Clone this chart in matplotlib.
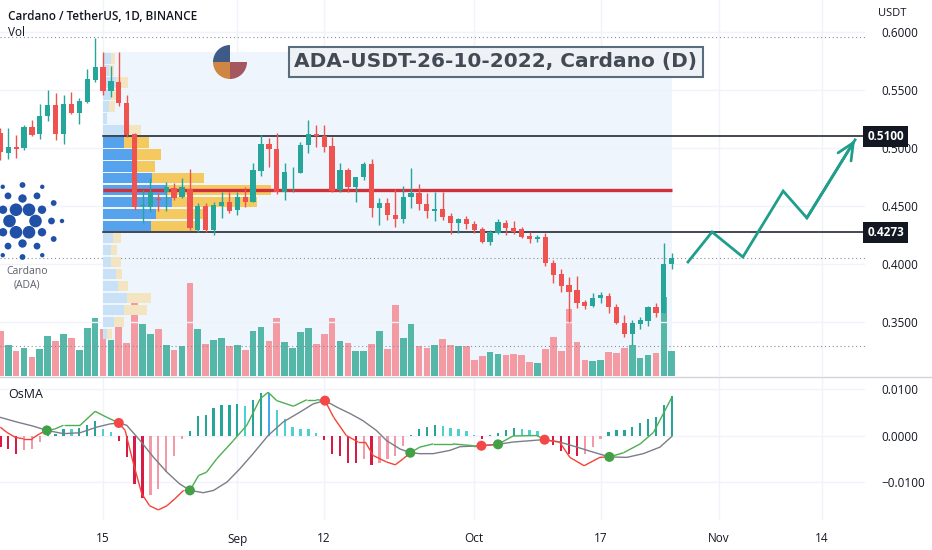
import numpy as np
import pandas as pd
import matplotlib
matplotlib.use("Agg")
import matplotlib.pyplot as plt
import matplotlib.dates as mdates
from matplotlib.collections import LineCollection
from matplotlib.patches import Circle, Wedge
from matplotlib.transforms import blended_transform_factory

plt.rcParams['font.family'] = ['Open Sans', 'DejaVu Sans']

# ---- daily ADA/USDT candles, 2 Aug .. 26 Oct 2022 ----
dates = pd.date_range('2022-08-02', '2022-10-26', freq='D')
opens = [0.5127, 0.4960, 0.5011, 0.4998, 0.5179, 0.5121, 0.5276, 0.5371, 0.5121, 0.5379, 0.5299, 0.5399, 0.5586,
         0.5696, 0.5494, 0.5572, 0.5391, 0.5121, 0.4500, 0.4494, 0.4561, 0.4623, 0.4653, 0.4575, 0.4644, 0.4293,
         0.4500, 0.4293, 0.4500, 0.4537, 0.4466, 0.4575, 0.4537, 0.4804, 0.5034, 0.4989, 0.4623, 0.4790, 0.4787,
         0.5026, 0.5121, 0.5104, 0.5017, 0.4638, 0.4810, 0.4661, 0.4747, 0.4862, 0.4480, 0.4523, 0.4422, 0.4385,
         0.4580, 0.4615, 0.4517, 0.4460, 0.4472, 0.4414, 0.4356, 0.4385, 0.4345, 0.4299, 0.4192, 0.4270, 0.4356,
         0.4313, 0.4299, 0.4241, 0.4218, 0.4230, 0.4011, 0.3911, 0.3819, 0.3776, 0.3675, 0.3638, 0.3704, 0.3724,
         0.3627, 0.3494, 0.3397, 0.3483, 0.3511, 0.3627, 0.3575, 0.4000]
highs = [0.5173, 0.5173, 0.5112, 0.5198, 0.5242, 0.5379, 0.5500, 0.5477, 0.5457, 0.5485, 0.5429, 0.5678, 0.5946,
         0.5830, 0.5707, 0.5830, 0.5457, 0.5127, 0.4638, 0.4739, 0.4610, 0.4709, 0.4696, 0.4739, 0.4817, 0.4523,
         0.4523, 0.4537, 0.4623, 0.4623, 0.4623, 0.4666, 0.4868, 0.5112, 0.5084, 0.5127, 0.4868, 0.4839, 0.5054,
         0.5242, 0.5198, 0.5198, 0.5097, 0.4873, 0.4825, 0.4750, 0.4882, 0.4903, 0.4566, 0.4566, 0.4644, 0.4672,
         0.4825, 0.4690, 0.4610, 0.4623, 0.4623, 0.4437, 0.4394, 0.4414, 0.4373, 0.4322, 0.4293, 0.4385, 0.4379,
         0.4373, 0.4322, 0.4279, 0.4250, 0.4270, 0.4034, 0.3954, 0.3891, 0.3897, 0.3690, 0.3747, 0.3761, 0.3747,
         0.3655, 0.3560, 0.3517, 0.3546, 0.3638, 0.3661, 0.4178, 0.4092]
lows = [0.4897, 0.4905, 0.4917, 0.4983, 0.5104, 0.5075, 0.5235, 0.5069, 0.5035, 0.5293, 0.5207, 0.5391, 0.5572,
        0.5457, 0.5442, 0.5362, 0.5097, 0.4466, 0.4356, 0.4451, 0.4460, 0.4460, 0.4552, 0.4566, 0.4293, 0.4279,
        0.4279, 0.4250, 0.4394, 0.4440, 0.4422, 0.4489, 0.4535, 0.4759, 0.4839, 0.4604, 0.4552, 0.4623, 0.4782,
        0.4954, 0.5006, 0.4968, 0.4623, 0.4623, 0.4623, 0.4537, 0.4724, 0.4408, 0.4336, 0.4379, 0.4322, 0.4351,
        0.4480, 0.4466, 0.4394, 0.4373, 0.4379, 0.4259, 0.4270, 0.4299, 0.4265, 0.4184, 0.4164, 0.4259, 0.4250,
        0.4259, 0.4222, 0.4184, 0.4192, 0.3983, 0.3839, 0.3761, 0.3503, 0.3618, 0.3610, 0.3629, 0.3667, 0.3575,
        0.3483, 0.3373, 0.3302, 0.3437, 0.3466, 0.3540, 0.3575, 0.3954]
closes = [0.4968, 0.5011, 0.4994, 0.5179, 0.5112, 0.5276, 0.5371, 0.5121, 0.5379, 0.5304, 0.5408, 0.5592, 0.5696,
          0.5491, 0.5580, 0.5385, 0.5112, 0.4489, 0.4509, 0.4623, 0.4552, 0.4666, 0.4566, 0.4666, 0.4308, 0.4500,
          0.4293, 0.4509, 0.4537, 0.4460, 0.4575, 0.4537, 0.4810, 0.5034, 0.4989, 0.4623, 0.4796, 0.4796, 0.5026,
          0.5121, 0.5104, 0.5011, 0.4632, 0.4810, 0.4661, 0.4747, 0.4862, 0.4480, 0.4523, 0.4422, 0.4385, 0.4580,
          0.4615, 0.4517, 0.4460, 0.4472, 0.4408, 0.4356, 0.4385, 0.4345, 0.4293, 0.4192, 0.4279, 0.4365, 0.4308,
          0.4279, 0.4230, 0.4213, 0.4230, 0.4011, 0.3905, 0.3810, 0.3761, 0.3666, 0.3638, 0.3704, 0.3733, 0.3627,
          0.3494, 0.3397, 0.3489, 0.3517, 0.3627, 0.3575, 0.4000, 0.4049]
volume = [45, 31, 25, 27.7, 19, 26.7, 40, 35, 42.3, 37.7, 26, 48.3, 57.7,
          46.7, 36, 57.7, 32.7, 81, 52.3, 42.3, 46.7, 31, 26, 30, 93.3, 46.7, 31.7, 35.7, 37.7, 30, 31, 25.7,
          45, 49, 35, 57.7, 34, 27.7, 44, 48.3, 31.7, 42.3, 57.7, 35, 33.3, 25, 25, 32.3, 45, 27.3, 71, 38.3,
          52.3, 30, 27.7, 31, 37.3, 31, 30, 30, 15.7, 20, 24.3, 21.7, 20.7, 21.7, 21, 14.3, 13.3, 27.3, 39, 25,
          66.7, 34.3, 16, 15, 16, 24.3, 23.3, 27.7, 31, 18.3, 20.7, 23.3, 79, 25]

# ---- visible-range volume profile (rows bottom -> top) ----
profile_up = [4, 11, 21, 24, 15, 13, 8, 8, 10, 48, 53, 69, 63, 49, 29, 29, 21, 21, 4, 6, 8, 13, 6, 8]
profile_down = [5, 10, 23, 24, 10, 6, 10, 6, 8, 48, 50, 85, 105, 52, 23, 29, 25, 17, 0, 6, 5, 12, 5, 4]
value_area = (0.4273, 0.5100)
poc_price = 0.4635
level_lines = [0.5100, 0.4273]

# ---- OsMA ----
osma_hist = [-0.0025, -0.0030, -0.0039, -0.0032, -0.0030, -0.0014, 0.0002, 0.0003, 0.0014, 0.0013, 0.0016, 0.0023,
             0.0032, 0.0014, 0.0007, -0.0011, -0.0047, -0.0104, -0.0135, -0.0129, -0.0115, -0.0079, -0.0043,
             -0.0007, 0.0009, 0.0041, 0.0044, 0.0060, 0.0065, 0.0066, 0.0067, 0.0063, 0.0077, 0.0092, 0.0092,
             0.0055, 0.0036, 0.0018, 0.0014, 0.0013, 0.0006, -0.0009, -0.0039, -0.0043, -0.0059, -0.0059, -0.0050,
             -0.0063, -0.0059, -0.0050, -0.0043, -0.0022, 0.0001, 0.0013, 0.0018, 0.0022, 0.0021, 0.0016, 0.0014,
             0.0009, 0.0002, -0.0007, 0.0001, 0.0006, 0.0011, 0.0016, 0.0013, 0.0011, 0.0010, -0.0011, -0.0020,
             -0.0034, -0.0039, -0.0044, -0.0039, -0.0025, -0.0007, 0.0007, 0.0011, 0.0012, 0.0018, 0.0027, 0.0036,
             0.0039, 0.0066, 0.0085]
# line points: day offset from 15 Aug, value
slow_days = [-13, -10.9, -8.8, -7.1, -5.0, -2.9, -0.8, 0.9, 2.0, 3.0, 4.7, 6.4, 8.1, 9.7, 11.0, 12.7, 14.0, 15.7,
             17.3, 19.0, 20.9, 22.8, 24.9, 26.6, 28.1, 29.6, 31.3, 32.9, 34.6, 35.9, 37.6, 38.9, 40.1, 41.8, 43.9,
             45.2, 47.9, 50.0, 51.9, 55.7, 57.8, 60.0, 62.1, 64.1, 66.3, 68.4, 70.5, 72.0]
slow_vals = [0.0039, 0.0029, 0.0020, 0.0011, 0.0004, 0.0006, 0.0018, 0.0025, 0.0027, 0.0022, -0.0011, -0.0047,
             -0.0079, -0.0104, -0.0118, -0.0123, -0.0118, -0.0100, -0.0072, -0.0039, 0.0, 0.0029, 0.0050, 0.0068,
             0.0075, 0.0061, 0.0047, 0.0032, 0.0011, -0.0011, -0.0029, -0.0037, -0.0039, -0.0039, -0.0032, -0.0024,
             -0.0022, -0.0019, -0.0014, -0.0009, -0.0014, -0.0025, -0.0036, -0.0046, -0.0047, -0.0039, -0.0025,
             -0.0002]
fast_days = [-13, -12.2, -11.1, -10.1, -9.0, -8.0, -7.1, -6.1, -5.0, -2.9, -1.0, 0.5, 2.0, 2.8, 3.8, 4.9, 5.9, 7.0,
             8.1, 9.1, 10.2, 11.0, 12.1, 13.1, 14.4, 16.5, 18.2, 19.9, 20.9, 22.0, 24.1, 25.8, 27.0, 28.1, 29.2,
             30.8, 32.3, 33.2, 34.2, 35.9, 37.0, 38.0, 38.9, 40.1, 41.8, 44.3, 46.9, 47.9, 50.0, 51.9, 54.9, 55.9,
             57.8, 59.1, 60.9, 62.9, 64.1, 65.9, 68.0, 69.7, 72.0]
fast_vals = [0.0018, 0.0007, -0.0004, -0.0007, -0.0007, 0.0004, 0.0011, 0.0014, 0.0022, 0.0022, 0.0052, 0.0039,
             0.0027, 0.0011, -0.0057, -0.0125, -0.0151, -0.0160, -0.0151, -0.0136, -0.0118, -0.0118, -0.0086,
             -0.0079, -0.0050, -0.0011, 0.0022, 0.0079, 0.0093, 0.0075, 0.0063, 0.0077, 0.0077, 0.0075, 0.0039, 0.0,
             -0.0014, -0.0014, -0.0043, -0.0057, -0.0063, -0.0050, -0.0037, -0.0025, -0.0018, -0.0018, -0.0022,
             -0.0022, -0.0019, -0.0001, 0.0, -0.0009, -0.0014, -0.0047, -0.0065, -0.0047, -0.0046, -0.0037, -0.0018,
             0.0007, 0.0082]
cross_days = [-7.1, 2.0, 11.0, 28.1, 38.9, 47.9, 50.0, 55.9, 64.1]
cross_vals = [0.0011, 0.0027, -0.0118, 0.0075, -0.0037, -0.0022, -0.0019, -0.0009, -0.0046]
cross_up = [True, False, True, False, True, False, True, False, True]

# ---- drawn forecast path ----
path_days = [74.05, 77.1, 81.0, 86.1, 89.1, 95.2]
path_prices = [0.4017, 0.4276, 0.4060, 0.4629, 0.4397, 0.5070]

tick_dates = ['2022-08-15', '2022-09-01', '2022-09-12', '2022-10-01', '2022-10-17', '2022-11-01', '2022-11-14']
tick_labels = ['15', 'Sep', '12', 'Oct', '17', 'Nov', '14']

UP, DOWN = '#26a69a', '#ef5350'
TXT = '#131722'
GRID = '#f0f3fa'

W, H = 932, 550


def rect(x0, y0, x1, y1):
    return [x0 / W, 1 - y1 / H, (x1 - x0) / W, (y1 - y0) / H]


fig = plt.figure(figsize=(W / 100, H / 100), dpi=100)
ax_vol = fig.add_axes(rect(0, 0, 865, 376))
ax = fig.add_axes(rect(0, 0, 865, 376), sharex=ax_vol)
ax_osc = fig.add_axes(rect(0, 378, 865, 520), sharex=ax_vol)
ax.patch.set_alpha(0)

x = mdates.date2num(dates)
base = mdates.date2num(pd.Timestamp('2022-08-15'))
o, h, l, c = map(np.array, (opens, highs, lows, closes))
up = c >= o
cols = np.where(up, UP, DOWN)

ax_vol.set_xlim(base - 13.04, base + 96.46)
ax_vol.set_ylim(0, 376)
ax.set_ylim(0.3034, 0.6276)
ax_osc.set_ylim(-0.01817, 0.01237)

tick_x = mdates.date2num(pd.to_datetime(tick_dates))
for a in (ax_vol, ax_osc):
    for tx in tick_x:
        a.axvline(tx, color=GRID, lw=1, zorder=0)

# range background of the volume profile
rng_start, rng_end = base, x[-1]
bt = blended_transform_factory(ax_vol.transData, ax_vol.transAxes)
ax_vol.fill_between([rng_start, rng_end], 0, (376 - 52) / 376, transform=bt, color='#eef5fc', lw=0, zorder=0.5)

# volume bars
vcols = np.where(up, '#55b7a7', '#f49aa2')
ax_vol.bar(x, volume, width=0.84, color=vcols, zorder=1)
ax_vol.axhline(30, color='#8a8d96', lw=0.8, ls=(0, (1, 2.5)), zorder=3)
ax_vol.set_yticks([])

# price grid + dotted lines
for p in np.arange(0.35, 0.601, 0.05):
    ax.axhline(p, color=GRID, lw=1, zorder=0)
for p in (0.5953, 0.4052):
    ax.axhline(p, color='#8a8d96', lw=0.8, ls=(0, (1, 2.5)), zorder=1)

# volume profile
bin_h = 0.01034
lo = value_area[0] - 9 * bin_h
centers = lo + (np.arange(len(profile_up)) + 0.5) * bin_h
inside = (centers > value_area[0]) & (centers < value_area[1])
pu, pd_ = np.array(profile_up, float), np.array(profile_down, float)
scale = 0.295 * (rng_end - rng_start) / (pu + pd_).max()
ax.barh(centers, pu * scale, left=rng_start, height=bin_h * 0.86,
        color=np.where(inside, '#56a2ec', '#c9e1f6'), zorder=1.5)
ax.barh(centers, pd_ * scale, left=rng_start + pu * scale, height=bin_h * 0.86,
        color=np.where(inside, '#f3c960', '#f4e5c2'), zorder=1.5)
ax.plot([rng_start, rng_end], [poc_price, poc_price], color='#d0303a', lw=2.4, zorder=2.5, solid_capstyle='butt')
for p in level_lines:
    ax.plot([rng_start, base + 96.46], [p, p], color=TXT, lw=1.1, zorder=2.5)

# candles
ax.vlines(x, l, h, colors=cols, lw=1, zorder=3)
ax.bar(x, np.maximum(np.abs(c - o), 0.0007), bottom=np.minimum(o, c), width=0.66, color=cols, zorder=3.2)

# forecast path
px = base + np.array(path_days)
ax.plot(px, path_prices, color='#1f9e8c', lw=2, zorder=4, solid_joinstyle='miter')
ax.annotate('', xy=(px[-1], path_prices[-1]), xytext=(px[-2], path_prices[-2]),
            arrowprops=dict(arrowstyle='->,head_length=1.2,head_width=0.55', color='#1f9e8c', lw=2,
                            shrinkA=0, shrinkB=0), zorder=4)

# price scale
ax.yaxis.tick_right()
ax.set_yticks(np.arange(0.35, 0.601, 0.05))
ax.set_yticklabels([f'{v:.4f}' for v in np.arange(0.35, 0.601, 0.05)])
ax.tick_params(axis='y', length=0, pad=12, labelsize=8.5, labelcolor=TXT)
ax.tick_params(axis='x', length=0, labelbottom=False)
ax_vol.tick_params(axis='x', length=0, labelbottom=False)
yt = blended_transform_factory(ax.transAxes, ax.transData)
for p in level_lines:
    ax.text(1.003, p, f'{p:.4f}', transform=yt, ha='left', va='center', color='white', fontsize=8.5,
            fontweight='bold', clip_on=False, zorder=6,
            bbox=dict(boxstyle='square,pad=0.35', fc=TXT, ec='none'))

# OsMA panel
for lv in (0.01, 0.0, -0.01):
    ax_osc.axhline(lv, color=GRID, lw=1, zorder=0)
hv = np.array(osma_hist)
prev = np.concatenate([[hv[0]], hv[:-1]])
hcols = []
for v, pv in zip(hv, prev):
    if v >= 0:
        hcols.append('#26a69a' if v > pv else ('#42a5f5' if v == pv else '#4dd0d0'))
    else:
        hcols.append('#d81b45' if v <= pv else '#f29aa8')
ax_osc.bar(x, hv, width=0.3, color=hcols, zorder=2)

sx = base + np.array(slow_days)
ax_osc.plot(sx, slow_vals, color='#7b7e88', lw=1, zorder=3)
fx = base + np.array(fast_days)
fv = np.array(fast_vals)
segs = [[(fx[i], fv[i]), (fx[i + 1], fv[i + 1])] for i in range(len(fx) - 1)]
mids = (np.array(fast_days[:-1]) + np.array(fast_days[1:])) / 2
n_cross = np.searchsorted(cross_days, mids)
seg_cols = ['#4caf50' if k % 2 == 1 else '#f44336' for k in n_cross]
ax_osc.add_collection(LineCollection(segs, colors=seg_cols, lw=1, zorder=3))
ax_osc.scatter(base + np.array(cross_days), cross_vals, s=52,
               c=['#43a047' if u else '#f44848' for u in cross_up], zorder=4, linewidths=0)

ax_osc.yaxis.tick_right()
ax_osc.set_yticks([-0.01, 0.0, 0.01])
ax_osc.set_yticklabels([f'{v:.4f}'.replace('-', '\u2212') for v in (-0.01, 0.0, 0.01)])
ax_osc.tick_params(axis='y', length=0, pad=12, labelsize=8.5, labelcolor=TXT)
ax_osc.set_xticks(tick_x)
ax_osc.set_xticklabels(tick_labels)
ax_osc.tick_params(axis='x', length=0, pad=9, labelsize=8.5, labelcolor=TXT)

for a in (ax, ax_vol, ax_osc):
    for s in a.spines.values():
        s.set_visible(False)

# overlay: header texts, logos, separator
ov = fig.add_axes([0, 0, 1, 1])
ov.set_xlim(0, W)
ov.set_ylim(H, 0)
ov.axis('off')
ov.patch.set_alpha(0)
ov.plot([0, W], [377, 377], color='#d1d4dc', lw=1)
ov.text(8, 16, 'Cardano / TetherUS, 1D, BINANCE', fontsize=8.5, fontweight='semibold', color=TXT, va='center')
ov.text(8, 32, 'Vol', fontsize=8.5, color=TXT, va='center')
ov.text(8, 394, 'OsMA', fontsize=9, color=TXT, va='center')
ov.text(878, 14, 'USDT', fontsize=8, color=TXT, va='center')
ov.text(496, 62, 'ADA-USDT-26-10-2022, Cardano (D)', family='DejaVu Sans', fontsize=14.5, fontweight='bold',
        color='#434a54', ha='center', va='center',
        bbox=dict(boxstyle='square,pad=0.26', fc='#eef2f7', ec='#5a6b7d', lw=1.5))

# small pie logo
for t1, t2, col in ((180, 270, '#3d5b86'), (90, 180, '#cf8642'), (0, 90, '#a5575f')):
    ov.add_patch(Wedge((230, 62), 17, t1, t2, color=col, lw=0))

# Cardano logo (dots in rings)
cx, cy = 22.5, 221
for r, start, size in ((13, 0, 6.3), (22.5, 30, 4.2), (29, 0, 3.4), (36, 30, 2.9), (39.5, 0, 2.2)):
    for k in range(6):
        a = np.deg2rad(start + 60 * k)
        ov.add_patch(Circle((cx + r * np.cos(a), cy + r * np.sin(a)), size, color='#2150a7', lw=0))
ov.text(27, 278, 'Cardano\n(ADA)', fontsize=7.5, color='#5d606b', ha='center', va='center', linespacing=1.3)

fig.savefig('out.png', dpi=100)
